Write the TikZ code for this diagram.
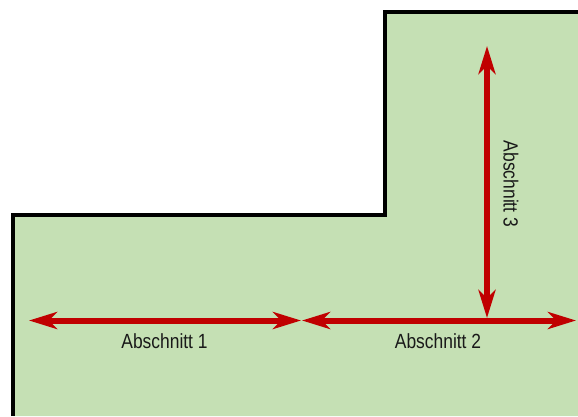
\documentclass[tikz,border=0pt]{standalone}
\usepackage{fontspec}
\setmainfont[FakeStretch=0.85]{Liberation Sans}
\usetikzlibrary{arrows.meta}
\definecolor{areagreen}{HTML}{C5E0B4}
\definecolor{arrowred}{HTML}{C00000}
\tikzset{
  outline/.style={draw=black,line width=3.8pt,line join=miter},
  span/.style={draw=arrowred,line width=6pt,{Stealth[length=28pt,width=17pt,inset=8pt]}-{Stealth[length=28pt,width=17pt,inset=8pt]},shorten >=0pt,shorten <=0pt},
  lbl/.style={font=\fontsize{20.5pt}{24pt}\selectfont,text=black!90,inner sep=0pt,anchor=center}
}
\begin{document}
\begin{tikzpicture}[x=1pt,y=-1pt]
\useasboundingbox (0,0) rectangle (578,416);
\fill[areagreen] (13,416) -- (13,215) -- (385,215) -- (385,12) -- (578,12) -- (578,416) -- cycle;
\draw[outline] (13,416) -- (13,215) -- (385,215) -- (385,12) -- (578,12);
\coordinate (a1l) at (29,320.5);
\coordinate (a1r) at (301,320.5);
\coordinate (a2l) at (302,320.5);
\coordinate (a2r) at (576,320.5);
\coordinate (a3t) at (487,46);
\coordinate (a3b) at (487,318);
\draw[span] (a3t) -- (a3b);
\draw[span] (a1l) -- (a1r);
\draw[span] (a2l) -- (a2r);
\node[lbl] (l1) at (164.5,341) {Abschnitt 1};
\node[lbl] (l2) at (438,341) {Abschnitt 2};
\node[lbl,rotate=-90] (l3) at (511,184) {Abschnitt 3};
\end{tikzpicture}
\end{document}
